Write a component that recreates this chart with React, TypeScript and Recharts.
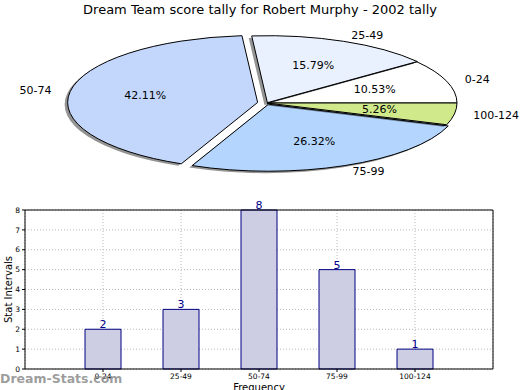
import { Bar, BarChart, CartesianGrid, LabelList, Pie, PieChart, XAxis, YAxis } from 'recharts';

const CATEGORIES = ['0-24', '25-49', '50-74', '75-99', '100-124'];
const COUNTS = [2, 3, 8, 5, 1];
const X_TICKS = [0, 1, 2, 3, 4];
const Y_TICKS = [0, 1, 2, 3, 4, 5, 6, 7, 8];

const TITLE = 'Dream Team score tally for Robert Murphy - 2002 tally';
const FONT = '"DejaVu Sans", sans-serif';

// pie look: flat ellipse, exploded slices, drop shadow
const SLICE_COLORS = ['#ffffff', '#eaf1fe', '#c3d7fd', '#b3d5fe', '#cfe98b'];
const EXPLODE = [0, 0.005, 0.05, 0.02, 0];
const TILT = 67 / 190;
const SHADOW = { dx: -3, dy: 2 };

const pieData = CATEGORIES.map((name, i) => ({ name, value: COUNTS[i], fill: SLICE_COLORS[i] }));
const barData = CATEGORIES.map((name, i) => ({ x: i, name, count: COUNTS[i] }));

const rad = (deg: number) => (deg * Math.PI) / 180;

function offsetFor(name: string, mid: number, rx: number, ry: number) {
  const e = EXPLODE[CATEGORIES.indexOf(name)] ?? 0;
  return [e * rx * Math.cos(rad(mid)), -e * ry * Math.sin(rad(mid))];
}

function slicePath(cx: number, cy: number, rx: number, ry: number, a0: number, a1: number) {
  const x0 = cx + rx * Math.cos(rad(a0));
  const y0 = cy - ry * Math.sin(rad(a0));
  const x1 = cx + rx * Math.cos(rad(a1));
  const y1 = cy - ry * Math.sin(rad(a1));
  const large = Math.abs(a1 - a0) > 180 ? 1 : 0;
  return `M${cx},${cy} L${x0},${y0} A${rx},${ry} 0 ${large} 0 ${x1},${y1} Z`;
}

function EllipseSlice(props: any) {
  const { cx, cy, outerRadius, startAngle, endAngle, midAngle, fill } = props;
  const name = props.name ?? props.payload?.name;
  const rx = outerRadius;
  const ry = outerRadius * TILT;
  const [dx, dy] = offsetFor(name, midAngle, rx, ry);
  const px = cx + dx;
  const py = cy + dy;
  return (
    <g>
      <path
        d={slicePath(px + SHADOW.dx, py + SHADOW.dy, rx, ry, startAngle, endAngle)}
        fill="#000"
        fillOpacity={0.42}
        stroke="none"
      />
      <path d={slicePath(px, py, rx, ry, startAngle, endAngle)} fill={fill} stroke="#000" strokeWidth={1} />
    </g>
  );
}

function SliceLabels(props: any) {
  const { cx, cy, outerRadius, midAngle, percent, name } = props;
  const rx = outerRadius;
  const ry = outerRadius * TILT;
  const [dx, dy] = offsetFor(name, midAngle, rx, ry);
  const c = Math.cos(rad(midAngle));
  const s = Math.sin(rad(midAngle));
  return (
    <g style={{ fontFamily: FONT, fontSize: 11 }} fill="#000">
      <text
        x={cx + dx + 1.1 * rx * c}
        y={cy + dy - 1.1 * ry * s}
        textAnchor={c >= 0 ? 'start' : 'end'}
        dominantBaseline="central"
      >
        {name}
      </text>
      <text x={cx + dx + 0.6 * rx * c} y={cy + dy - 0.6 * ry * s} textAnchor="middle" dominantBaseline="central">
        {(percent * 100).toFixed(2)}%
      </text>
    </g>
  );
}

const tickStyle = { fontFamily: FONT, fontSize: 7.5, fill: '#000' };

export default function App() {
  return (
    <div
      style={{
        position: 'absolute',
        left: 0,
        top: 0,
        width: 520,
        height: 390,
        overflow: 'hidden',
        background: '#fff',
        fontFamily: FONT,
      }}
    >
      <div style={{ position: 'absolute', left: 0, top: 2, width: 520, textAlign: 'center', fontSize: 13 }}>
        {TITLE}
      </div>

      <div style={{ position: 'absolute', left: 0, top: 0 }}>
        <PieChart width={520} height={200}>
          <Pie
            data={pieData}
            dataKey="value"
            nameKey="name"
            cx={262}
            cy={98}
            outerRadius={190}
            startAngle={0}
            endAngle={360}
            shape={EllipseSlice}
            label={SliceLabels}
            labelLine={false}
            isAnimationActive={false}
          />
        </PieChart>
      </div>

      <div style={{ position: 'absolute', left: 0, top: 200 }}>
        <BarChart width={520} height={200} data={barData} margin={{ top: 0, right: 0, bottom: 0, left: 0 }}>
          <CartesianGrid stroke="#b8b8b8" strokeDasharray="1 2" />
          <XAxis
            dataKey="x"
            type="number"
            domain={[-1, 5]}
            ticks={X_TICKS}
            interval={0}
            tickFormatter={(v: number) => CATEGORIES[v] ?? ''}
            tick={tickStyle}
            tickSize={3}
            tickMargin={2}
            height={31}
            stroke="#000"
            label={{
              value: 'Frequency',
              position: 'insideBottom',
              offset: 9,
              style: { fontFamily: FONT, fontSize: 10, fill: '#000' },
            }}
          />
          <XAxis
            xAxisId="top"
            dataKey="x"
            type="number"
            domain={[-1, 5]}
            orientation="top"
            height={10}
            tick={false}
            tickLine={false}
            stroke="#000"
          />
          <YAxis
            domain={[0, 8]}
            ticks={Y_TICKS}
            interval={0}
            tick={tickStyle}
            tickSize={3}
            tickMargin={2}
            width={25}
            stroke="#000"
            label={{
              value: 'Stat Intervals',
              angle: -90,
              position: 'insideLeft',
              offset: 8,
              style: { fontFamily: FONT, fontSize: 10, fill: '#000', textAnchor: 'middle' },
            }}
          />
          <YAxis
            yAxisId="right"
            orientation="right"
            domain={[0, 8]}
            ticks={Y_TICKS}
            interval={0}
            tickFormatter={() => ''}
            tickSize={3}
            width={27}
            stroke="#000"
          />
          <Bar dataKey="count" barSize={36} fill="#cdcde3" stroke="#000080" strokeWidth={1} isAnimationActive={false}>
            <LabelList
              dataKey="count"
              position="top"
              offset={1}
              style={{ fontFamily: FONT, fontSize: 11, fill: '#00008b' }}
            />
          </Bar>
        </BarChart>
      </div>

      <div
        style={{
          position: 'absolute',
          left: 0,
          top: 371,
          fontSize: 12.5,
          fontWeight: 'bold',
          color: 'rgba(140,140,140,0.85)',
        }}
      >
        Dream-Stats.com
      </div>
    </div>
  );
}
